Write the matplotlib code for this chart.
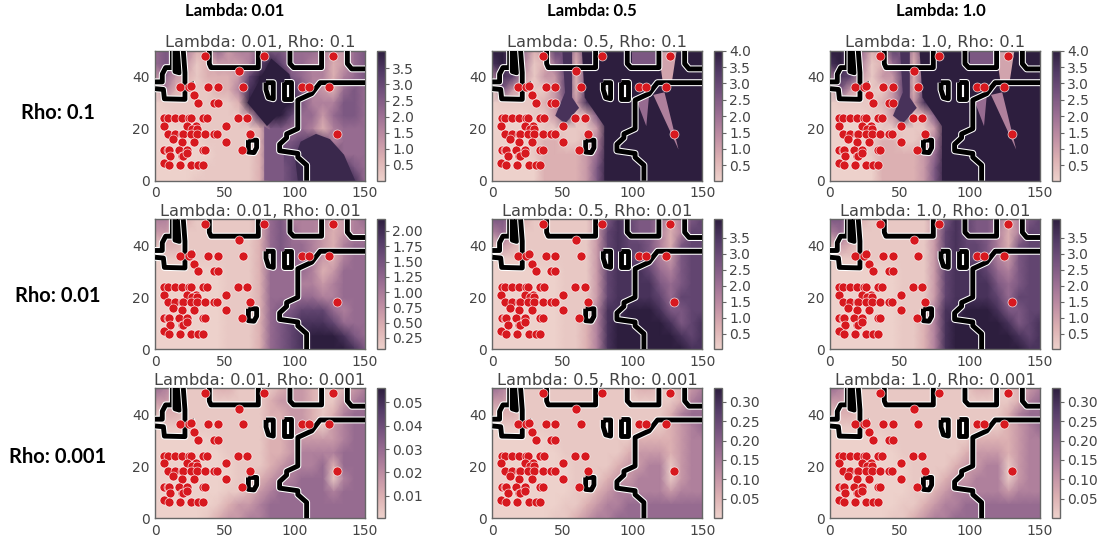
import matplotlib
matplotlib.use("Agg")
import matplotlib.pyplot as plt
import matplotlib.patheffects as pe
from matplotlib.colors import LinearSegmentedColormap
import numpy as np

plt.rcParams["font.family"] = ["DejaVu Sans"]

W, H = 1097, 542

# heat grids on a 0-9 shade scale, rows from y=50 down to y=0
grid_x = [0, 7.5, 15, 22.5, 30, 37.5, 45, 52.5, 60, 67.5, 75, 82.5, 90, 97.5, 105, 112.5, 120, 127.5, 135, 142.5, 150]
grid_y = [50, 45, 40, 35, 30, 25, 20, 15, 10, 5, 0]

low_rho01 = [
    [5, 6, 6, 4, 2, 2, 5, 3, 4, 4, 5, 6, 6, 5, 5, 5, 4, 3, 3, 5, 6],
    [5, 6, 5, 3, 1, 2, 3, 3, 3, 4, 7, 9, 7, 5, 5, 4, 4, 2, 3, 5, 6],
    [3, 5, 3, 2, 1, 2, 2, 2, 3, 7, 9, 9, 9, 6, 5, 4, 4, 2, 4, 5, 6],
    [1, 4, 2, 1, 1, 1, 2, 2, 4, 8, 9, 9, 9, 8, 6, 4, 3, 2, 5, 6, 5],
    [0, 1, 1, 1, 1, 1, 1, 1, 2, 9, 9, 9, 9, 9, 6, 4, 4, 4, 6, 6, 5],
    [0, 0, 1, 1, 1, 1, 1, 1, 1, 3, 8, 9, 9, 7, 5, 5, 3, 5, 6, 6, 5],
    [0, 0, 0, 0, 1, 1, 1, 1, 1, 1, 2, 6, 6, 5, 5, 4, 2, 4, 5, 5, 5],
    [0, 0, 0, 0, 0, 1, 1, 1, 1, 1, 2, 6, 6, 6, 7, 8, 7, 4, 5, 5, 5],
    [0, 0, 0, 0, 0, 0, 1, 1, 1, 1, 2, 6, 7, 7, 8, 9, 9, 8, 5, 5, 5],
    [0, 0, 0, 0, 0, 1, 1, 1, 1, 1, 2, 6, 6, 7, 8, 9, 9, 9, 8, 6, 5],
    [0, 0, 0, 0, 1, 1, 1, 1, 1, 1, 2, 6, 6, 7, 8, 9, 9, 9, 9, 8, 5],
]
high_rho01 = [
    [9, 9, 7, 5, 2, 3, 7, 6, 3, 7, 9, 9, 9, 9, 7, 9, 7, 3, 4, 9, 9],
    [8, 9, 6, 4, 1, 2, 5, 7, 2, 7, 9, 9, 9, 9, 7, 7, 5, 2, 4, 9, 9],
    [4, 8, 7, 3, 1, 3, 3, 7, 2, 6, 9, 9, 9, 9, 9, 9, 7, 2, 7, 9, 9],
    [1, 6, 3, 1, 1, 1, 3, 7, 2, 7, 9, 9, 9, 9, 9, 9, 5, 3, 9, 9, 9],
    [0, 1, 1, 1, 1, 2, 3, 6, 3, 8, 9, 9, 9, 9, 9, 5, 6, 3, 9, 9, 9],
    [0, 0, 0, 0, 1, 1, 3, 8, 1, 2, 6, 9, 9, 9, 9, 5, 9, 3, 9, 9, 9],
    [0, 0, 0, 0, 0, 1, 1, 1, 1, 1, 3, 9, 9, 9, 9, 9, 8, 4, 9, 9, 9],
    [0, 0, 0, 0, 1, 2, 2, 1, 1, 2, 4, 9, 9, 9, 9, 9, 9, 6, 9, 9, 9],
    [0, 0, 0, 0, 1, 2, 2, 2, 2, 3, 5, 9, 9, 9, 9, 9, 9, 9, 9, 9, 9],
    [0, 0, 0, 0, 0, 2, 2, 2, 2, 3, 6, 9, 9, 9, 9, 9, 9, 9, 9, 9, 9],
    [0, 0, 0, 0, 0, 2, 2, 2, 2, 3, 6, 9, 9, 9, 9, 9, 9, 9, 9, 9, 9],
]
low_rho001 = [
    [4, 4, 3, 2, 1, 1, 1, 1, 1, 1, 2, 5, 6, 4, 4, 4, 4, 2, 3, 4, 5],
    [3, 3, 2, 1, 1, 1, 1, 1, 1, 1, 2, 5, 6, 5, 4, 4, 3, 2, 3, 4, 4],
    [1, 2, 2, 1, 1, 1, 1, 1, 1, 1, 2, 5, 6, 5, 5, 4, 3, 2, 4, 5, 5],
    [0, 1, 1, 1, 1, 1, 1, 1, 1, 1, 2, 5, 6, 5, 5, 4, 3, 2, 4, 5, 5],
    [0, 0, 0, 0, 0, 0, 0, 1, 1, 1, 2, 5, 5, 5, 5, 4, 2, 3, 5, 5, 5],
    [0, 0, 0, 0, 0, 0, 0, 1, 1, 1, 2, 5, 5, 5, 4, 4, 3, 4, 5, 5, 5],
    [0, 0, 0, 0, 0, 0, 0, 1, 1, 1, 2, 5, 5, 5, 5, 5, 4, 4, 5, 5, 5],
    [0, 0, 0, 0, 0, 0, 0, 1, 1, 1, 2, 5, 6, 6, 7, 7, 7, 5, 4, 5, 5],
    [0, 0, 0, 0, 0, 0, 0, 1, 1, 1, 2, 5, 6, 7, 8, 8, 8, 7, 5, 5, 5],
    [0, 0, 0, 0, 0, 0, 0, 1, 1, 1, 2, 5, 6, 7, 8, 9, 9, 9, 8, 6, 5],
    [0, 0, 0, 0, 0, 0, 0, 1, 1, 1, 2, 5, 6, 7, 8, 9, 9, 9, 9, 8, 6],
]
high_rho001 = [
    [6, 6, 4, 2, 1, 1, 1, 1, 1, 1, 3, 6, 8, 7, 6, 6, 5, 2, 4, 6, 7],
    [4, 5, 3, 1, 1, 1, 1, 1, 1, 1, 3, 7, 8, 7, 6, 6, 4, 2, 4, 7, 7],
    [1, 3, 2, 1, 1, 1, 1, 1, 1, 1, 3, 7, 8, 7, 7, 6, 4, 2, 6, 7, 7],
    [0, 1, 1, 1, 1, 1, 1, 1, 1, 1, 3, 7, 8, 7, 7, 6, 4, 3, 6, 7, 7],
    [0, 0, 0, 0, 0, 0, 0, 1, 1, 1, 3, 7, 8, 8, 8, 7, 5, 4, 6, 7, 7],
    [0, 0, 0, 0, 0, 0, 0, 1, 1, 1, 3, 7, 8, 8, 8, 8, 6, 5, 6, 7, 7],
    [0, 0, 0, 0, 0, 0, 0, 1, 1, 1, 3, 7, 8, 8, 8, 8, 7, 5, 7, 7, 7],
    [0, 0, 0, 0, 0, 0, 0, 1, 1, 1, 4, 8, 8, 9, 9, 9, 8, 6, 6, 7, 7],
    [0, 0, 0, 0, 0, 0, 0, 1, 1, 2, 4, 8, 9, 9, 9, 9, 9, 8, 6, 7, 8],
    [0, 0, 0, 0, 0, 0, 0, 1, 1, 2, 4, 8, 9, 9, 9, 9, 9, 9, 8, 7, 8],
    [0, 0, 0, 0, 0, 0, 0, 1, 1, 2, 4, 8, 9, 9, 9, 9, 9, 9, 9, 8, 8],
]
low_rho0001 = [
    [5, 4, 3, 1, 1, 1, 2, 2, 1, 1, 1, 1, 2, 3, 3, 2, 1, 1, 2, 3, 4],
    [3, 3, 2, 1, 1, 1, 1, 1, 1, 1, 1, 2, 3, 3, 3, 2, 1, 1, 3, 4, 5],
    [1, 2, 2, 1, 1, 1, 1, 1, 1, 1, 1, 2, 2, 3, 3, 2, 1, 2, 4, 5, 5],
    [0, 1, 1, 1, 1, 1, 1, 1, 1, 1, 1, 2, 2, 3, 3, 2, 1, 3, 4, 5, 5],
    [0, 0, 0, 0, 0, 0, 1, 1, 1, 1, 1, 2, 2, 3, 3, 3, 3, 3, 4, 5, 5],
    [0, 0, 0, 0, 0, 0, 0, 1, 1, 1, 1, 2, 2, 3, 4, 4, 4, 4, 5, 5, 5],
    [0, 0, 0, 0, 0, 0, 0, 0, 1, 1, 1, 2, 3, 4, 4, 4, 5, 2, 5, 5, 5],
    [0, 0, 0, 0, 0, 0, 0, 0, 1, 1, 2, 3, 4, 4, 5, 5, 5, 1, 4, 5, 5],
    [0, 0, 0, 0, 0, 0, 0, 1, 1, 2, 3, 4, 5, 5, 5, 5, 5, 4, 5, 5, 5],
    [0, 0, 0, 0, 0, 0, 1, 2, 3, 3, 4, 5, 5, 5, 5, 5, 5, 5, 5, 5, 5],
    [0, 0, 0, 0, 0, 1, 2, 3, 3, 4, 4, 5, 5, 5, 5, 5, 5, 5, 5, 5, 5],
]
high_rho0001 = [
    [5, 4, 2, 1, 1, 1, 1, 1, 1, 1, 1, 1, 1, 1, 2, 2, 1, 1, 2, 3, 4],
    [3, 3, 2, 1, 1, 1, 1, 1, 1, 1, 1, 1, 1, 1, 1, 1, 1, 1, 2, 4, 5],
    [1, 2, 2, 1, 1, 1, 1, 1, 1, 1, 1, 1, 1, 1, 1, 1, 1, 2, 4, 5, 5],
    [0, 1, 1, 1, 1, 1, 1, 1, 1, 1, 1, 1, 1, 1, 1, 1, 1, 2, 3, 4, 5],
    [0, 0, 0, 0, 0, 0, 1, 1, 1, 1, 1, 1, 1, 1, 2, 2, 2, 2, 3, 4, 4],
    [0, 0, 0, 0, 0, 0, 0, 1, 1, 1, 1, 1, 1, 2, 3, 3, 3, 2, 3, 4, 4],
    [0, 0, 0, 0, 0, 0, 0, 0, 1, 1, 1, 1, 2, 3, 3, 4, 4, 1, 3, 4, 4],
    [0, 0, 0, 0, 0, 0, 0, 0, 1, 1, 1, 2, 3, 3, 4, 4, 4, 1, 3, 4, 4],
    [0, 0, 0, 0, 0, 0, 0, 0, 1, 1, 2, 3, 4, 4, 4, 4, 4, 3, 4, 4, 4],
    [0, 0, 0, 0, 0, 0, 0, 1, 1, 2, 3, 4, 4, 5, 5, 5, 5, 5, 5, 5, 5],
    [0, 0, 0, 0, 0, 0, 1, 1, 2, 3, 4, 4, 5, 5, 5, 5, 5, 5, 5, 5, 5],
]

# sharp shaded regions of the rho 0.1 panels: outline and shade
low_regions = [
    ([(78, 0), (78, 21), (92, 16), (92, 0)], 6),
    ([(83, 47), (66, 30), (80, 21), (100, 32), (96, 41)], 9),
    ([(115, 18), (104, 15), (100, 9), (102, 0), (143, 0), (135, 10), (125, 16)], 8.5),
]
high_regions = [
    ([(80, 0), (80, 21), (66, 32), (64, 50), (150, 50), (150, 0)], 9),
    ([(45, 25), (52, 34), (50, 50), (57, 50), (57, 32), (62, 28), (52, 22)], 8),
    ([(100, 43.5), (100, 50), (118, 50), (118, 43.5)], 6),
    ([(103, 31), (112, 33), (110, 21)], 5),
    ([(115, 33), (123, 34), (133, 12)], 4),
    ([(118.6, 50), (131.7, 50), (128, 37), (122, 37)], 2.5),
]

# scatter points
pts_x = [36, 78, 127, 60, 18, 24, 26, 28, 31, 38, 45, 63, 42, 45, 105, 110, 124, 130, 59, 66, 50.5, 68, 50.5, 62,
         6.7, 9, 14, 19, 24, 25.5, 34, 37, 6.5, 23, 29, 26.7, 30,
         9, 14, 19, 20, 25.5, 30, 36, 42, 44.5, 12.5, 19, 28,
         6.7, 9, 10, 17, 23, 34, 36, 11, 19, 20, 23, 6.5, 10, 17.5, 26, 31, 34]
pts_y = [48, 48, 48, 42, 36, 36, 36.5, 33, 30, 36, 36, 36, 30, 30, 36, 36, 36, 18, 24, 24, 21, 18, 15, 12,
         24, 24, 24, 24, 24, 24, 24, 24, 21, 21, 21, 20, 20,
         18, 18, 18, 18, 18, 18, 18, 18, 18, 16, 15, 15,
         12, 12, 12, 12, 12, 12, 12, 9.5, 9.5, 9.5, 10.5, 7, 6, 6, 6, 6, 6]

# decision boundary pieces
edge_main = [(108.3, 0), (108.3, 6), (102, 9), (102, 10.5), (89, 11.5), (89, 14), (94, 16.5), (94, 18), (102, 20),
             (102, 31), (106, 32), (112, 33.5), (115.5, 36), (118, 37.7), (150, 37.7)]
edge_box1 = [(38.8, 50), (38.8, 45), (40, 43.5), (73.8, 43.5), (73.8, 50)]
edge_box2 = [(96.4, 50), (96.4, 45), (99, 43.5), (119, 43.5), (119, 50)]
edge_box3 = [(137.4, 50), (137.4, 45), (140.5, 43), (150, 43)]
edge_left1 = [(0, 38), (5.2, 38), (5.2, 41), (7.6, 43.5), (12.4, 43.5), (12.4, 50)]
edge_left2 = [(14.3, 50), (14.3, 42), (17.4, 41.5), (17.4, 50)]
edge_left3 = [(0, 35.4), (6, 35.1), (6.7, 31.5), (21.4, 31.3), (21.4, 41.6), (20.2, 50)]
edge_bit = [(26, 38), (27, 36)]
loop1 = [(79.3, 37.7), (84.5, 37.7), (84.5, 31.5), (81, 32), (79.3, 35), (79.3, 37.7)]
loop2 = [(92, 37.9), (97, 37.9), (97, 31.5), (92, 31.5), (92, 37.9)]
loop3 = [(66.7, 15.6), (72.6, 15.6), (72.6, 12.7), (70.7, 10.8), (66.7, 11), (66.7, 15.6)]
edges = [edge_main, edge_box1, edge_box2, edge_box3, edge_left1, edge_left2, edge_left3, edge_bit, loop1, loop2, loop3]

lambdas = ["0.01", "0.5", "1.0"]
rhos = ["0.1", "0.01", "0.001"]
col_left = [155, 492.3, 830]
row_top = [50.7, 219.3, 388]
panel_w, panel_h = 210, 130

grids = [[low_rho01, high_rho01, high_rho01],
         [low_rho001, high_rho001, high_rho001],
         [low_rho0001, high_rho0001, high_rho0001]]
regions = [[low_regions, high_regions, high_regions], [[], [], []], [[], [], []]]
vmins = [[0.01, 0.03, 0.03], [0.065, 0.02, 0.02], [0.0006, 0.0, 0.0]]
vmaxs = [[4.05, 4.0, 4.0], [2.19, 4.08, 4.08], [0.056, 0.336, 0.336]]
ticks_a = [0.5, 1.0, 1.5, 2.0, 2.5, 3.0, 3.5]
ticks_b = ticks_a + [4.0]
ticks_c = [0.25, 0.5, 0.75, 1.0, 1.25, 1.5, 1.75, 2.0]
ticks_d = [0.01, 0.02, 0.03, 0.04, 0.05]
ticks_e = [0.05, 0.1, 0.15, 0.2, 0.25, 0.3]
cbar_ticks = [[ticks_a, ticks_b, ticks_b], [ticks_c, ticks_a, ticks_a], [ticks_d, ticks_e, ticks_e]]
cbar_fmt = [["%.1f", "%.1f", "%.1f"], ["%.2f", "%.1f", "%.1f"], ["%.2f", "%.2f", "%.2f"]]

cmap = LinearSegmentedColormap.from_list(
    "purp", ["#edd1cb", "#dcb0b2", "#bf8ea3", "#9c6f93", "#77547f", "#533b66", "#2d1e3e"])
ink = "#444444"
plain = "DejaVu Sans"
heading = "Lato"


def box(left, top, w, h):
    return [left / W, 1 - (top + h) / H, w / W, h / H]


def tone(shade):
    # keep the pale end pale, the rest of the digits run evenly up to the dark end
    return np.interp(shade, [0, 1, 2, 9], [0, 0.05, 0.17, 1])


fig = plt.figure(figsize=(W / 100, H / 100), dpi=100)
halo = [pe.withStroke(linewidth=5.0, foreground="white")]

for r in range(3):
    for c in range(3):
        ax = fig.add_axes(box(col_left[c], row_top[r], panel_w, panel_h))
        vals = vmins[r][c] + tone(grids[r][c]) * (vmaxs[r][c] - vmins[r][c])
        mesh = ax.pcolormesh(grid_x, grid_y, vals, cmap=cmap, shading="gouraud",
                             vmin=vmins[r][c], vmax=vmaxs[r][c], rasterized=True)
        for outline, shade in regions[r][c]:
            xs, ys = zip(*outline)
            ax.fill(xs, ys, color=cmap(float(tone(shade))), lw=0, zorder=2)
        for e in edges:
            xs, ys = zip(*e)
            ax.plot(xs, ys, color="black", lw=3.5, solid_joinstyle="round",
                    solid_capstyle="butt", path_effects=halo, zorder=3)
        ax.scatter(pts_x, pts_y, s=42, c="#d7191f", edgecolors="white", linewidths=0.4, zorder=4, clip_on=False)
        ax.set_xlim(0, 150)
        ax.set_ylim(0, 50)
        ax.set_xticks([0, 50, 100, 150])
        ax.set_yticks([0, 20, 40])
        ax.tick_params(length=0, labelsize=10, labelcolor=ink, pad=4, labelfontfamily=plain)
        ax.set_title("Lambda: %s, Rho: %s" % (lambdas[c], rhos[r]), fontsize=11.7, color=ink, pad=2.5, family=plain)
        for s in ax.spines.values():
            s.set_color("#666666")
            s.set_linewidth(1)

        cax = fig.add_axes(box(col_left[c] + panel_w + 12, row_top[r], 8, panel_h))
        cb = fig.colorbar(mesh, cax=cax, ticks=cbar_ticks[r][c], format=cbar_fmt[r][c])
        cb.ax.tick_params(length=3, width=0.8, color="#666666", labelsize=10, labelcolor=ink, pad=2,
                          labelfontfamily=plain)
        cb.outline.set_edgecolor("#666666")
        cb.outline.set_linewidth(1)

head_x = [235, 592, 941]
for c in range(3):
    fig.text(head_x[c] / W, 1 - 11 / H, "Lambda: " + lambdas[c], family=heading, weight="bold",
             fontsize=12, ha="center", va="center", color="black")
side_y = [113, 296, 457]
for r in range(3):
    fig.text(58 / W, 1 - side_y[r] / H, "Rho: " + rhos[r], family=heading, weight="bold",
             fontsize=14.5, ha="center", va="center", color="black")

fig.savefig("out.png", dpi=100)
